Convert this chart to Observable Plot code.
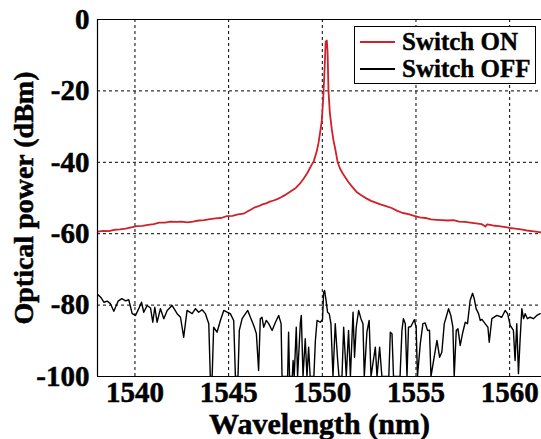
<!DOCTYPE html>
<html>
<head>
<meta charset="utf-8">
<script src="https://cdn.jsdelivr.net/npm/d3@7"></script>
<script src="https://cdn.jsdelivr.net/npm/@observablehq/plot@0.6"></script>
<style>
  html, body { margin: 0; padding: 0; background: #fff; }
  #wrap { position: relative; width: 541px; height: 439px; overflow: hidden; }
  #wrap svg text { font-family: "Liberation Serif", "Times New Roman", serif !important; font-weight: 700 !important; stroke: #000; stroke-width: 0.5px; paint-order: stroke; }
  #wrap svg g[aria-label="x-axis tick label"], #wrap svg g[aria-label="y-axis tick label"] { font-size: 29px !important; }
  #wrap svg g[aria-label="x-axis label"] { font-size: 30px !important; }
  #wrap svg g[aria-label="y-axis label"] { font-size: 28px !important; }
  #legend { position: absolute; left: 354px; top: 26px; width: 180px; height: 56px; border: 1px solid #000; background: #fff;
    font-family: "Liberation Serif", "Times New Roman", serif; font-weight: 700; font-size: 25px; -webkit-text-stroke: 0.4px #000; }
  #legend .row { position: absolute; left: 0; height: 27px; width: 100%; }
  #legend .sw { position: absolute; left: 5px; width: 35px; height: 2px; top: 13px; }
  #legend .lab { position: absolute; left: 47px; top: 0; line-height: 27px; white-space: nowrap; }
</style>
</head>
<body>
<div id="wrap"></div>
<script>
const xDomain = [1538, 1561.7];
const yDomain = [-100, 0];
const xTicks = [1540, 1545, 1550, 1555, 1560];
const yTicks = [0, -20, -40, -60, -80, -100];
const seriesNames = ["Switch ON", "Switch OFF"];
const seriesColors = ["#d0202a", "#000000"];

// Switch ON spectrum (nm, dBm)
const onWl = [1538.0,1538.3,1538.6,1538.9,1539.2,1539.5,1539.8,1540.1,1540.4,1540.7,1541.0,1541.3,1541.6,1541.9,1542.2,1542.5,1542.8,1543.1,1543.4,1543.7,1544.0,1544.3,1544.6,1544.9,1545.2,1545.5,1545.8,1546.0,1546.2,1546.4,1546.6,1546.8,1547.0,1547.2,1547.4,1547.6,1547.8,1548.0,1548.2,1548.4,1548.6,1548.8,1549.0,1549.2,1549.4,1549.55,1549.7,1549.8,1549.9,1549.97,1550.05,1550.12,1550.18,1550.24,1550.28,1550.33,1550.4,1550.5,1550.6,1550.7,1550.82,1550.95,1551.1,1551.25,1551.4,1551.6,1551.85,1552.1,1552.35,1552.6,1552.85,1553.1,1553.4,1553.7,1554.0,1554.3,1554.6,1554.9,1555.2,1555.5,1555.8,1556.1,1556.4,1556.7,1557.0,1557.3,1557.6,1557.9,1558.2,1558.5,1558.7,1558.8,1559.1,1559.4,1559.7,1560.0,1560.3,1560.6,1560.9,1561.2,1561.5,1561.7];
const onDbm = [-59.4,-59.2,-59.3,-58.9,-58.8,-58.6,-58.2,-57.9,-57.8,-57.5,-57.3,-56.9,-56.9,-56.6,-56.7,-56.6,-56.8,-56.6,-56.3,-56.2,-55.9,-55.7,-55.6,-55.1,-55.0,-54.6,-54.4,-53.8,-53.2,-52.6,-52.3,-51.8,-51.5,-51.0,-50.7,-50.3,-49.8,-49.2,-48.5,-47.8,-47.1,-46.0,-44.6,-43.0,-41.0,-39.6,-37.0,-34.5,-31.0,-28.5,-22.0,-14.0,-6.2,-5.9,-9.0,-20.0,-26.0,-30.5,-34.0,-36.5,-40.0,-41.8,-43.2,-44.4,-45.6,-46.9,-48.4,-49.3,-50.1,-50.8,-51.3,-51.8,-52.3,-52.8,-53.6,-54.2,-54.5,-55.0,-55.4,-55.6,-56.0,-56.1,-56.2,-56.3,-56.2,-56.6,-56.7,-56.9,-57.1,-57.3,-58.0,-57.4,-57.7,-57.9,-58.1,-58.4,-58.6,-58.8,-59.1,-59.3,-59.5,-59.7];

// Switch OFF spectrum (nm, dBm)
const offWl = [1538.0,1538.17,1538.34,1538.52,1538.69,1538.87,1539.1,1539.3,1539.5,1539.67,1539.85,1540.03,1540.2,1540.35,1540.47,1540.65,1540.83,1540.95,1541.06,1541.18,1541.36,1541.54,1541.72,1541.98,1542.25,1542.43,1542.6,1542.78,1543.05,1543.23,1543.4,1543.58,1543.76,1543.94,1544.02,1544.12,1544.2,1544.38,1544.56,1544.74,1544.92,1545.09,1545.27,1545.36,1545.5,1545.57,1545.72,1545.9,1546.02,1546.16,1546.34,1546.48,1546.6,1546.69,1546.78,1546.87,1547.01,1547.14,1547.32,1547.5,1547.67,1547.8,1547.85,1548.15,1548.2,1548.25,1548.4,1548.44,1548.5,1548.61,1548.68,1548.83,1548.88,1548.97,1549.09,1549.18,1549.27,1549.35,1549.55,1549.63,1549.72,1549.89,1550.01,1550.07,1550.12,1550.2,1550.28,1550.37,1550.46,1550.57,1550.69,1550.82,1550.89,1551.05,1551.14,1551.28,1551.4,1551.5,1551.64,1551.72,1551.81,1551.94,1552.06,1552.17,1552.24,1552.38,1552.5,1552.6,1552.83,1552.92,1553.06,1553.18,1553.55,1553.63,1553.72,1553.8,1554.15,1554.25,1554.33,1554.43,1554.52,1554.6,1554.73,1554.91,1555.01,1555.08,1555.23,1555.37,1555.49,1555.62,1555.72,1555.8,1556.03,1556.12,1556.26,1556.38,1556.51,1556.61,1556.74,1556.86,1556.97,1557.04,1557.15,1557.24,1557.36,1557.5,1557.63,1557.75,1557.89,1558.02,1558.11,1558.21,1558.34,1558.43,1558.52,1558.69,1558.84,1558.91,1559.05,1559.32,1559.58,1559.76,1559.89,1560.03,1560.2,1560.29,1560.38,1560.47,1560.56,1560.65,1560.74,1560.83,1560.95,1561.09,1561.27,1561.45,1561.63];
const offDbm = [-77.0,-77.8,-79.2,-78.9,-79.6,-81.7,-78.9,-78.2,-78.8,-78.5,-82.4,-82.9,-81.0,-79.2,-82.0,-80.1,-80.8,-84.8,-80.6,-84.8,-81.0,-83.8,-81.5,-80.1,-82.4,-83.4,-89.0,-81.5,-82.4,-81.0,-82.0,-81.3,-82.4,-85.2,-100,-100,-86.2,-87.6,-84.3,-81.5,-82.0,-82.4,-84.3,-100,-100,-87.1,-83.8,-82.4,-81.5,-83.4,-85.7,-88.0,-98.3,-83.8,-83.4,-86.2,-84.3,-85.2,-87.1,-84.8,-82.9,-85.2,-100,-100,-87.6,-100,-100,-95.5,-100,-86.2,-100,-84.8,-82.9,-100,-89.4,-100,-91.8,-100,-100,-89.9,-84.3,-84.8,-84.1,-76.4,-75.9,-78.7,-82.0,-82.4,-85.2,-100,-85.2,-95.5,-100,-100,-86.2,-100,-87.1,-100,-82.0,-94.6,-86.2,-81.5,-83.8,-85.2,-100,-87.6,-84.3,-100,-91.8,-100,-91.8,-100,-100,-87.6,-88.0,-100,-100,-87.1,-83.8,-85.2,-100,-86.2,-86.0,-84.1,-86.2,-100,-90.8,-85.2,-85.0,-87.1,-87.0,-100,-92.7,-89.9,-94.6,-93.2,-85.2,-83.4,-81.0,-82.9,-86.2,-100,-87.1,-86.6,-91.3,-87.6,-84.8,-85.2,-78.7,-76.7,-78.2,-81.0,-82.4,-84.3,-84.0,-85.2,-86.2,-90.4,-83.8,-82.9,-83.4,-81.5,-82.4,-85.7,-87.1,-95.5,-85.2,-99.2,-89.4,-81.0,-83.8,-82.4,-83.8,-83.4,-83.8,-82.9,-82.4];

const onData = onWl.map((x, i) => ({x, y: onDbm[i]}));
const offData = offWl.map((x, i) => ({x, y: offDbm[i]}));

const chart = Plot.plot({
  width: 541,
  height: 439,
  marginLeft: 97,
  marginRight: 0,
  marginTop: 19,
  marginBottom: 63,
  style: { fontFamily: "'Liberation Serif', 'Times New Roman', serif", fontWeight: "bold", fontSize: "29px", color: "#000", background: "#fff", overflow: "visible" },
  x: { domain: xDomain, ticks: xTicks, tickSize: 0, tickPadding: 5, tickFormat: d => String(d), label: "Wavelength (nm)", labelAnchor: "center", labelOffset: 57, labelArrow: "none" },
  y: { domain: yDomain, ticks: yTicks, tickSize: 0, tickPadding: 8, tickFormat: d => String(d), label: "Optical power (dBm)", labelAnchor: "center", labelOffset: 84, labelArrow: "none" },
  marks: [
    Plot.ruleX(xTicks, { stroke: "#000", strokeWidth: 1, strokeDasharray: "3,3" }),
    Plot.ruleY(yTicks.filter(v => v !== 0 && v !== -100), { stroke: "#000", strokeWidth: 1, strokeDasharray: "3,3" }),
    Plot.line(offData, { x: "x", y: "y", stroke: seriesColors[1], strokeWidth: 1.4, clip: true }),
    Plot.line(onData, { x: "x", y: "y", stroke: seriesColors[0], strokeWidth: 1.8, clip: true }),
    Plot.ruleX([xDomain[0]], { stroke: "#000", strokeWidth: 1.2 }),
    Plot.ruleY([yDomain[0], yDomain[1]], { stroke: "#000", strokeWidth: 1.2 })
  ]
});

const wrap = document.getElementById("wrap");
wrap.appendChild(chart);

const legend = document.createElement("div");
legend.id = "legend";
seriesNames.forEach((name, i) => {
  const row = document.createElement("div");
  row.className = "row";
  row.style.top = (1 + i * 27) + "px";
  const sw = document.createElement("div");
  sw.className = "sw";
  sw.style.background = seriesColors[i];
  const lab = document.createElement("div");
  lab.className = "lab";
  lab.textContent = name;
  row.appendChild(sw);
  row.appendChild(lab);
  legend.appendChild(row);
});
wrap.appendChild(legend);
</script>
</body>
</html>
